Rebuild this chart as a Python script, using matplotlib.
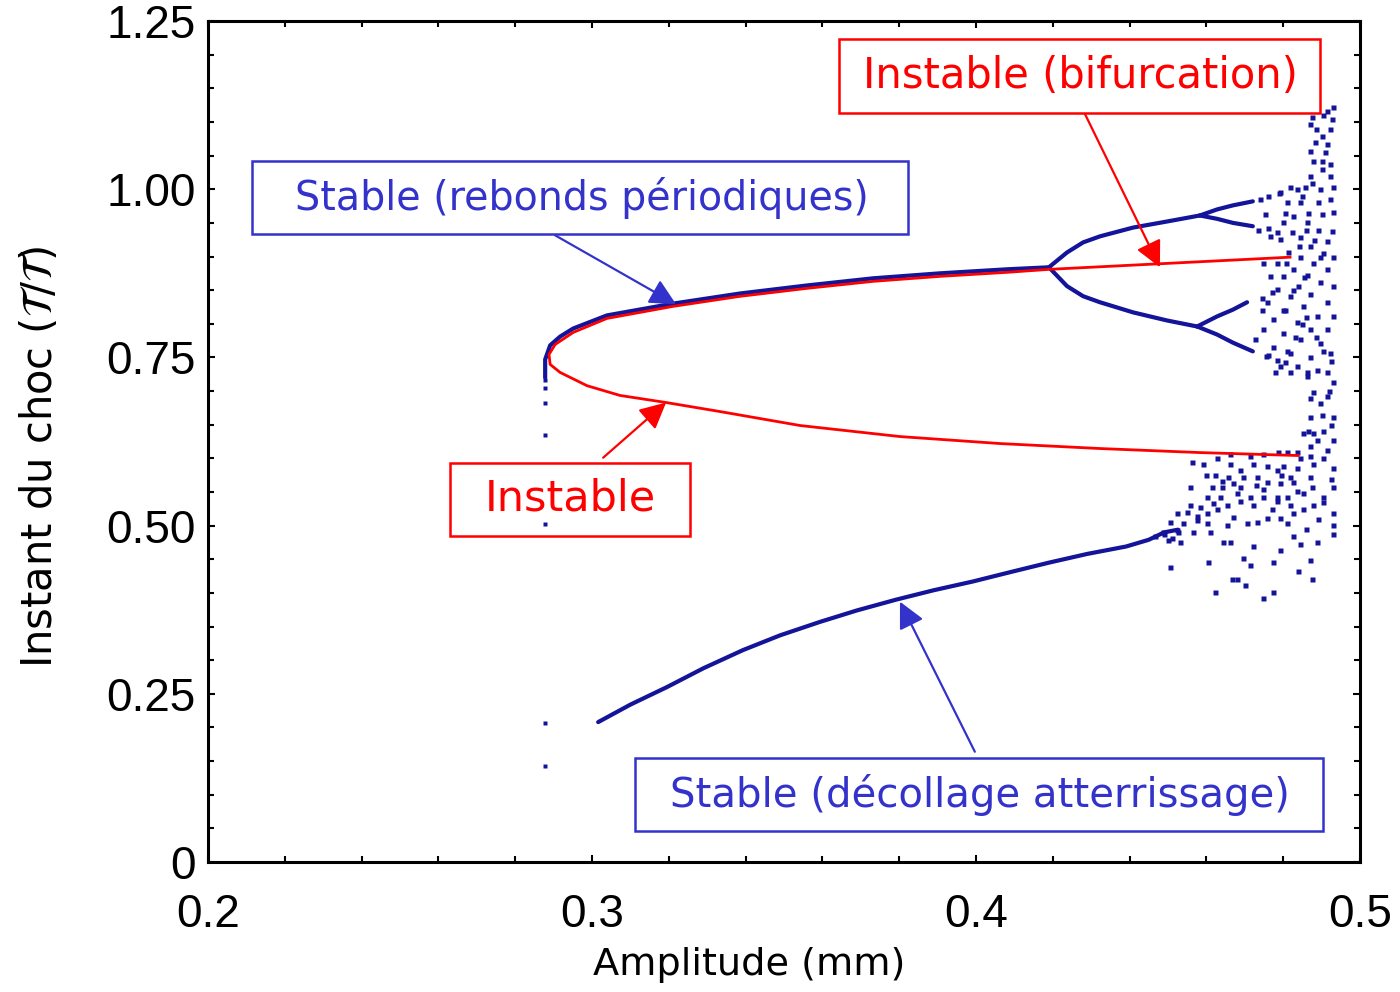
import matplotlib.pyplot as plt
from matplotlib.patches import Rectangle
from matplotlib.ticker import MultipleLocator, FixedLocator

# branche stable periodique (haut)
per1_x = [0.2878, 0.2878, 0.2891, 0.2917, 0.2951, 0.3039, 0.3211, 0.3385, 0.3560, 0.3732, 0.3906, 0.4081, 0.4190]
per1_y = [0.720, 0.747, 0.768, 0.781, 0.793, 0.8125, 0.830, 0.845, 0.857, 0.8676, 0.875, 0.881, 0.884]

# doublement de periode
p2_up_x = [0.4190, 0.4237, 0.4279, 0.4323, 0.4409, 0.4497, 0.4583]
p2_up_y = [0.884, 0.906, 0.921, 0.930, 0.943, 0.952, 0.961]
p2_dn_x = [0.4190, 0.4237, 0.4279, 0.4323, 0.4409, 0.4497, 0.4576]
p2_dn_y = [0.884, 0.856, 0.841, 0.832, 0.817, 0.805, 0.796]
p4_a_x = [0.4583, 0.4628, 0.4669, 0.4721]
p4_a_y = [0.961, 0.970, 0.976, 0.982]
p4_b_x = [0.4583, 0.4628, 0.4669, 0.4721]
p4_b_y = [0.961, 0.956, 0.950, 0.945]
p4_c_x = [0.4576, 0.4628, 0.4669, 0.4706]
p4_c_y = [0.796, 0.811, 0.821, 0.832]
p4_d_x = [0.4576, 0.4628, 0.4669, 0.4721]
p4_d_y = [0.796, 0.784, 0.772, 0.759]

# branche decollage / atterrissage
dec_x = [0.3016, 0.3100, 0.3195, 0.3290, 0.3393, 0.3490, 0.3594, 0.3690, 0.3792, 0.3890,
         0.3992, 0.4090, 0.4190, 0.4290, 0.4391, 0.4450, 0.4490, 0.4526]
dec_y = [0.208, 0.234, 0.260, 0.288, 0.315, 0.337, 0.357, 0.374, 0.390, 0.404,
         0.417, 0.431, 0.445, 0.458, 0.469, 0.479, 0.490, 0.494]

# solution instable (rouge)
uns_x = [0.4818, 0.4193, 0.4081, 0.3906, 0.3732, 0.3560, 0.3385, 0.3211, 0.3039, 0.2951,
         0.2904, 0.2888, 0.2891, 0.2917, 0.2987, 0.3073, 0.3193, 0.3333, 0.3542, 0.3802,
         0.4063, 0.4323, 0.4583, 0.4839]
uns_y = [0.899, 0.881, 0.8765, 0.8705, 0.8631, 0.8527, 0.8408, 0.8259, 0.8080, 0.7872,
         0.7693, 0.7545, 0.7396, 0.7277, 0.7080, 0.6935, 0.6830, 0.6696, 0.6488, 0.6324,
         0.6220, 0.6146, 0.6086, 0.6042]

# points isoles au seuil
iso_x = [0.2878, 0.2878, 0.2878, 0.2878, 0.2878, 0.2878, 0.2878]
iso_y = [0.716, 0.705, 0.683, 0.634, 0.503, 0.207, 0.143]

# nuage chaotique
cloud_x = [0.4930, 0.4914, 0.4875, 0.4927, 0.4870, 0.4922, 0.4901, 0.4883, 0.4914, 0.4870,
           0.4909, 0.4901, 0.4922, 0.4878, 0.4870, 0.4922, 0.4930, 0.4896, 0.4857, 0.4836,
           0.4818, 0.4792, 0.4844, 0.4810, 0.4891, 0.4922, 0.4930, 0.4901, 0.4826, 0.4799,
           0.4862, 0.4891, 0.4927, 0.4823, 0.4844, 0.4792, 0.4766, 0.4914, 0.4870, 0.4812,
           0.4844, 0.4896, 0.4930, 0.4878, 0.4784, 0.4747, 0.4826, 0.4862, 0.4914, 0.4799,
           0.4766, 0.4896, 0.4839, 0.4930, 0.4784, 0.4870, 0.4818, 0.4914, 0.4758, 0.4852,
           0.4799, 0.4888, 0.4930, 0.4773, 0.4836, 0.4870, 0.4914, 0.4747, 0.4799, 0.4844,
           0.4896, 0.4773, 0.4818, 0.4870, 0.4922, 0.4836, 0.4792, 0.4888, 0.4862,
           0.4740, 0.4753, 0.4734, 0.4745, 0.4727, 0.4760, 0.4805, 0.4779,
           0.4914, 0.4862, 0.4818, 0.4930, 0.4878, 0.4914, 0.4896, 0.4930, 0.4870, 0.4904,
           0.4878, 0.4852, 0.4930, 0.4888, 0.4870, 0.4914, 0.4836, 0.4810, 0.4786, 0.4747,
           0.4714, 0.4661, 0.4628, 0.4563, 0.4591, 0.4661, 0.4688, 0.4721, 0.4758, 0.4799,
           0.4836, 0.4870, 0.4878, 0.4930, 0.4622, 0.4656, 0.4695, 0.4732, 0.4784, 0.4818,
           0.4870, 0.4669, 0.4758, 0.4792, 0.4826, 0.4557, 0.4615, 0.4641, 0.4688, 0.4747,
           0.4836, 0.4875, 0.4930, 0.4602, 0.4635, 0.4688, 0.4714, 0.4747, 0.4784, 0.4810,
           0.4852, 0.4904, 0.4557, 0.4583, 0.4617, 0.4654, 0.4721, 0.4784, 0.4818, 0.4878,
           0.4523, 0.4549, 0.4602, 0.4628, 0.4669, 0.4706, 0.4732, 0.4758, 0.4792, 0.4826,
           0.4852, 0.4930, 0.4505, 0.4539, 0.4576, 0.4602, 0.4654, 0.4810, 0.4930, 0.4487,
           0.4523, 0.4565, 0.4609, 0.4930, 0.4531, 0.4643, 0.4661, 0.4721, 0.4792, 0.4826,
           0.4844, 0.4888, 0.4505, 0.4604, 0.4695, 0.4714, 0.4773, 0.4870, 0.4839, 0.4667,
           0.4680, 0.4875, 0.4701, 0.4622, 0.4773, 0.4747,
           0.4466, 0.4490, 0.4510, 0.4526, 0.4500,
           0.4760, 0.4790, 0.4760, 0.4785, 0.4745, 0.4770, 0.4755, 0.4785, 0.4810, 0.4830,
           0.4850, 0.4805, 0.4825, 0.4855, 0.4808, 0.4840, 0.4860, 0.4805, 0.4850, 0.4875,
           0.4900, 0.4885, 0.4905, 0.4865, 0.4880, 0.4905, 0.4860, 0.4885, 0.4905, 0.4925,
           0.4920, 0.4900, 0.4925, 0.4905, 0.4925, 0.4905, 0.4890, 0.4860, 0.4795, 0.4730,
           0.4680, 0.4640, 0.4600, 0.4575, 0.4770, 0.4845, 0.4865, 0.4870]
cloud_y = [1.122, 1.116, 1.107, 1.104, 1.097, 1.089, 1.079, 1.070, 1.067, 1.057,
           1.055, 1.042, 1.037, 1.042, 1.019, 1.019, 1.004, 1.000, 1.004, 1.000,
           1.003, 0.996, 0.981, 0.981, 0.981, 0.985, 0.966, 0.963, 0.960, 0.951,
           0.952, 0.940, 0.938, 0.936, 0.929, 0.926, 0.930, 0.923, 0.915, 0.906,
           0.900, 0.900, 0.900, 0.891, 0.891, 0.891, 0.881, 0.873, 0.881, 0.871,
           0.871, 0.862, 0.856, 0.856, 0.851, 0.844, 0.841, 0.832, 0.832, 0.826,
           0.821, 0.811, 0.811, 0.807, 0.802, 0.792, 0.792, 0.792, 0.787, 0.777,
           0.772, 0.766, 0.757, 0.751, 0.757, 0.737, 0.737, 0.732, 0.722,
           0.985, 0.963, 0.940, 0.821, 0.777, 0.754, 0.743, 0.728,
           0.728, 0.728, 0.728, 0.713, 0.698, 0.692, 0.683, 0.662, 0.661, 0.640,
           0.638, 0.638, 0.628, 0.628, 0.618, 0.613, 0.610, 0.610, 0.609, 0.606,
           0.603, 0.606, 0.601, 0.594, 0.591, 0.591, 0.583, 0.591, 0.588, 0.588,
           0.586, 0.603, 0.591, 0.586, 0.576, 0.573, 0.573, 0.573, 0.583, 0.573,
           0.573, 0.564, 0.565, 0.564, 0.565, 0.557, 0.557, 0.557, 0.558, 0.554,
           0.551, 0.558, 0.558, 0.543, 0.542, 0.536, 0.542, 0.543, 0.542, 0.543,
           0.549, 0.543, 0.531, 0.528, 0.534, 0.531, 0.531, 0.536, 0.531, 0.531,
           0.519, 0.521, 0.519, 0.524, 0.513, 0.504, 0.506, 0.512, 0.512, 0.519,
           0.524, 0.519, 0.506, 0.504, 0.509, 0.504, 0.501, 0.504, 0.501, 0.490,
           0.494, 0.490, 0.490, 0.487, 0.476, 0.475, 0.476, 0.469, 0.464, 0.484,
           0.472, 0.476, 0.439, 0.446, 0.452, 0.442, 0.446, 0.449, 0.432, 0.420,
           0.420, 0.420, 0.412, 0.402, 0.402, 0.393,
           0.484, 0.488, 0.482, 0.490, 0.478,
           0.990, 0.994, 0.942, 0.936, 0.838, 0.848, 0.752, 0.746, 0.760, 0.780,
           0.800, 0.820, 0.850, 0.870, 0.890, 0.915, 0.940, 0.965, 0.990, 1.010,
           1.030, 1.090, 1.110, 0.965, 0.925, 0.905, 0.810, 0.780, 0.760, 0.745,
           0.700, 0.665, 0.650, 0.600, 0.570, 0.535, 0.510, 0.495, 0.575, 0.560,
           0.548, 0.566, 0.575, 0.515, 0.525, 0.600, 0.640, 0.690]

x_ticks = [0.2, 0.3, 0.4, 0.5]
x_labels = ['0.2', '0.3', '0.4', '0.5']
y_ticks = [0, 0.25, 0.5, 0.75, 1.0, 1.25]
y_labels = ['0', '0.25', '0.50', '0.75', '1.00', '1.25']

dot_col = '#14149a'
blue = '#3333cc'
red = '#ff0000'
lab_font = 'DejaVu Sans'

fig = plt.figure(figsize=(14, 9.92), dpi=100)
ax = fig.add_axes([0.1486, 0.131, 0.8228, 0.8478])

for bx, by in [(per1_x, per1_y), (p2_up_x, p2_up_y), (p2_dn_x, p2_dn_y),
               (p4_a_x, p4_a_y), (p4_b_x, p4_b_y), (p4_c_x, p4_c_y),
               (p4_d_x, p4_d_y), (dec_x, dec_y)]:
    ax.plot(bx, by, color=dot_col, lw=3.0, solid_capstyle='round', zorder=2)

ax.plot(cloud_x, cloud_y, ls='none', marker='s', ms=3.6, color=dot_col, mec='none', zorder=2)
ax.plot(iso_x, iso_y, ls='none', marker='s', ms=3.4, color=dot_col, mec='none', zorder=2)
ax.plot(uns_x, uns_y, color=red, lw=2, zorder=3)

ax.set_xlim(0.2, 0.5)
ax.set_ylim(0, 1.25)
ax.xaxis.set_major_locator(FixedLocator(x_ticks))
ax.set_xticklabels(x_labels)
ax.yaxis.set_major_locator(FixedLocator(y_ticks))
ax.set_yticklabels(y_labels)
ax.xaxis.set_minor_locator(MultipleLocator(0.02))
ax.yaxis.set_minor_locator(MultipleLocator(0.05))
ax.tick_params(which='both', direction='in', top=True, right=True, width=1.5)
ax.tick_params(which='major', length=5, labelsize=33)
ax.tick_params(which='minor', length=4)
ax.tick_params(axis='x', which='major', pad=22)
ax.tick_params(axis='y', which='major', pad=9)
for lab in ax.get_xticklabels() + ax.get_yticklabels():
    lab.set_fontfamily('Liberation Sans')
for sp in ax.spines.values():
    sp.set_linewidth(2.2)

ax.set_xlabel('Amplitude (mm)', fontsize=27.5, family=lab_font, va='center')
ax.xaxis.set_label_coords(0.47, -0.1226)
ax.set_ylabel(r'Instant du choc ($\mathcal{T}/\mathcal{T}$)', fontsize=30, family=lab_font, va='center')
ax.yaxis.set_label_coords(-0.146, 0.482)

# boites d'annotation
boxes = [
    (0.5477, 0.8905, 0.4176, 0.0881, red, 'Instable (bifurcation)', 0.757, 0.9345, 30),
    (0.0382, 0.7464, 0.5694, 0.0869, blue, 'Stable (rebonds périodiques)', 0.3247, 0.789, 28.5),
    (0.2101, 0.3880, 0.2083, 0.0870, red, 'Instable', 0.3142, 0.432, 31),
    (0.3707, 0.0369, 0.5972, 0.0869, blue, 'Stable (décollage atterrissage)', 0.670, 0.0798, 29),
]
for x0, y0, w, h, c, txt, tx, ty, fs in boxes:
    ax.add_patch(Rectangle((x0, y0), w, h, transform=ax.transAxes, fill=False,
                           edgecolor=c, lw=1.8, zorder=5, clip_on=False))
    ax.text(tx, ty, txt, transform=ax.transAxes, color=c, fontsize=fs,
            family=lab_font, ha='center', va='center', zorder=6)

arrows = [
    ((0.3219, 0.829), (0.2904, 0.9315), blue),
    ((0.3193, 0.683), (0.3029, 0.601), red),
    ((0.4479, 0.884), (0.4284, 1.1116), red),
    ((0.3802, 0.387), (0.3997, 0.164), blue),
]
for tip, start, c in arrows:
    ax.annotate('', xy=tip, xytext=start,
                arrowprops=dict(arrowstyle='-|>', color=c, lw=1.6, mutation_scale=40,
                                shrinkA=0, shrinkB=0), zorder=6)

fig.savefig('out.png', dpi=100)
